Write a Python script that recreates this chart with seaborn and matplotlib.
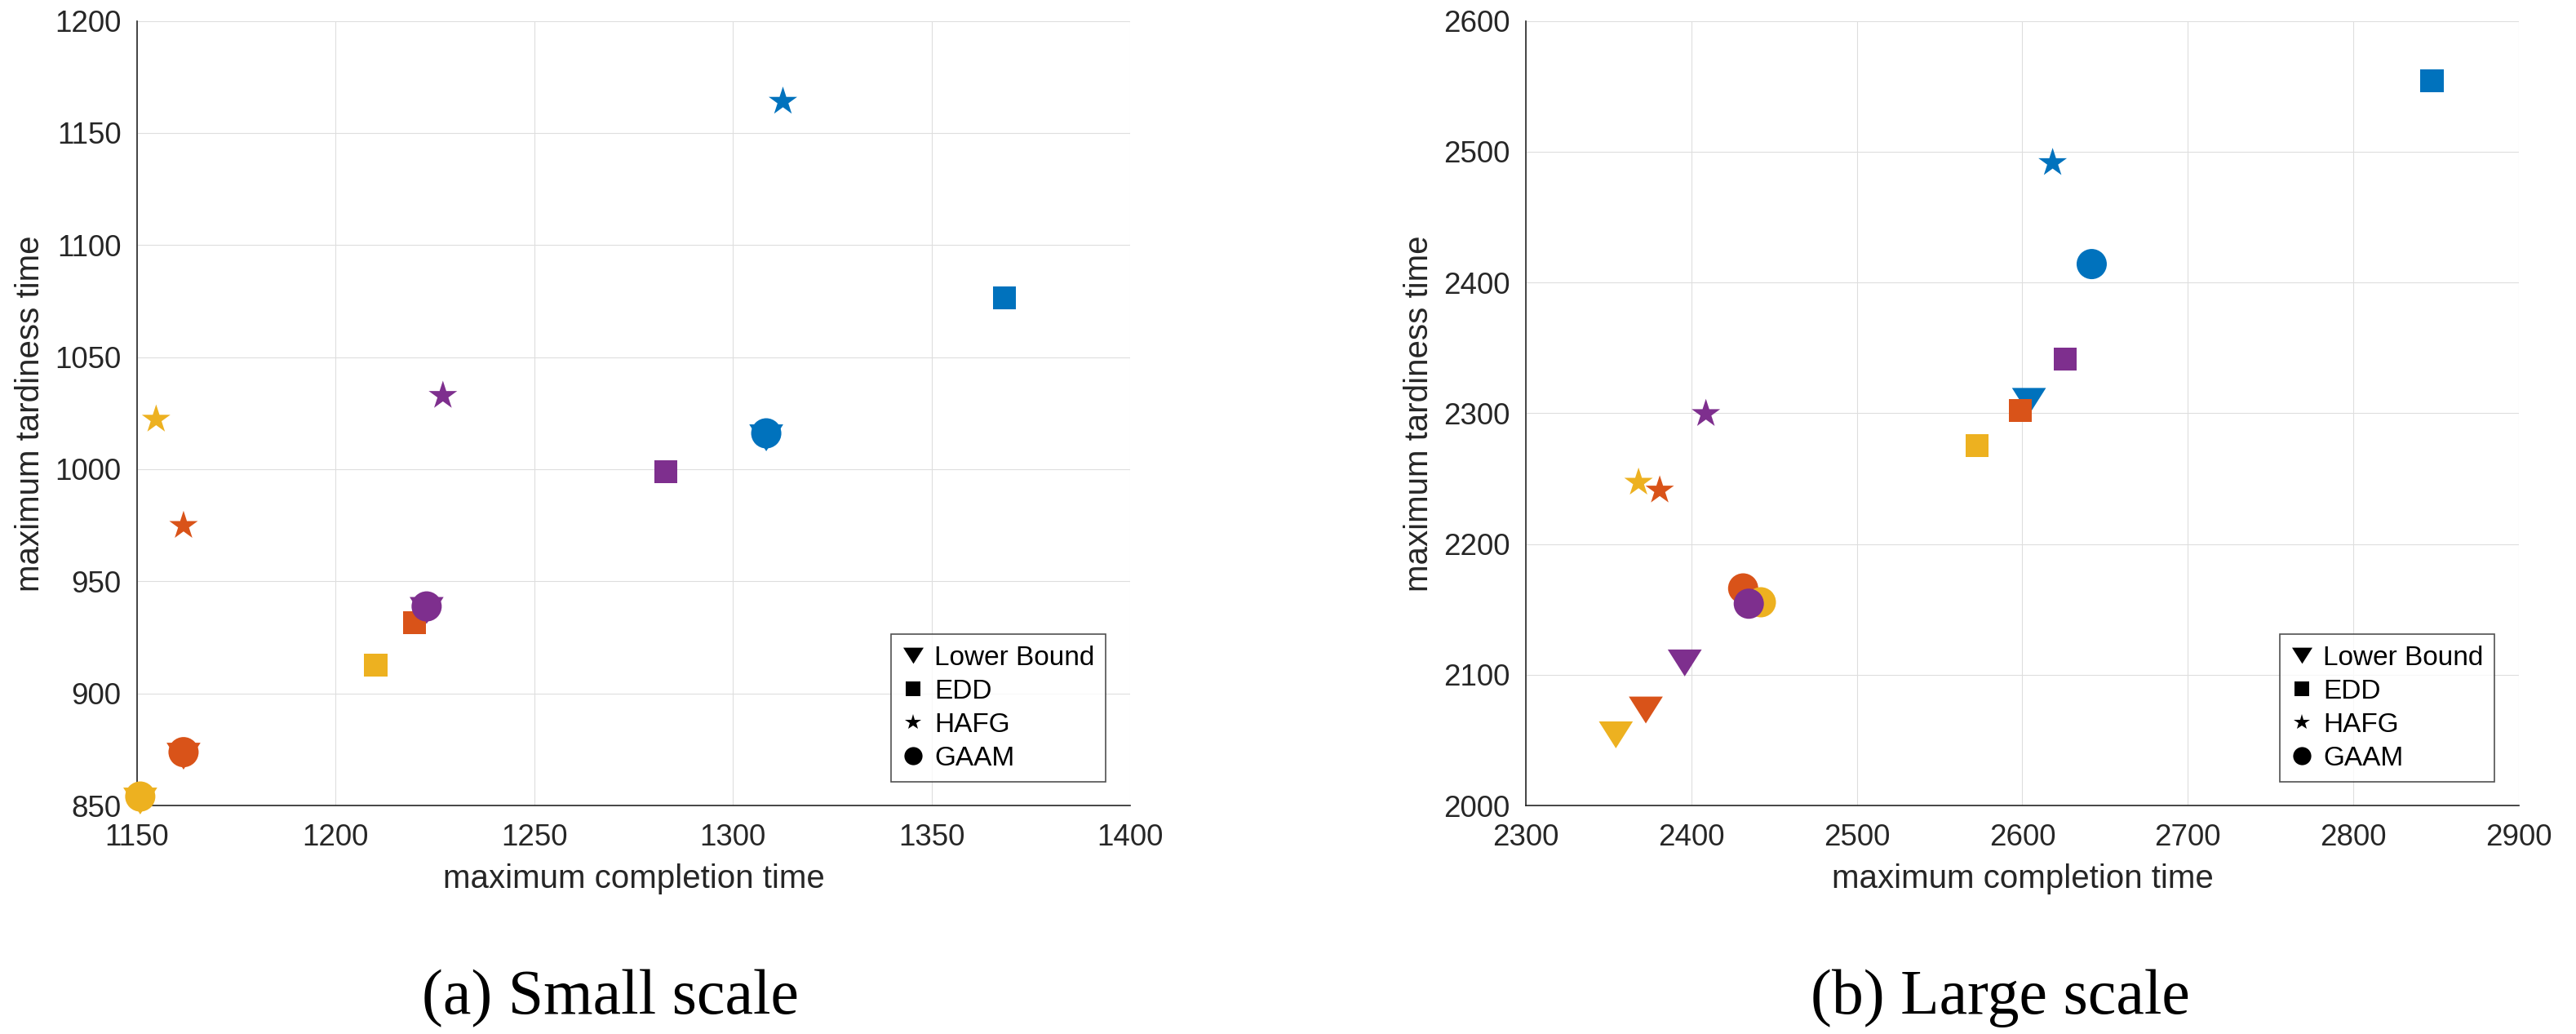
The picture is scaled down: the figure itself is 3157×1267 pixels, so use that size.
import matplotlib
matplotlib.use('Agg')
import matplotlib.pyplot as plt
from matplotlib.lines import Line2D
import pandas as pd
import seaborn as sns

methods = ['Lower Bound', 'EDD', 'HAFG', 'GAAM']
cases = ['c1', 'c2', 'c3', 'c4']
colors = ['#0072BD', '#D95319', '#EDB120', '#7E2F8E']

# (a) small scale, one value per colour group
small_lb_x = [1308.4, 1161.7, 1150.8, 1222.9]
small_lb_y = [1014, 872, 852, 937]
small_edd_x = [1368.4, 1219.8, 1210.1, 1283.1]
small_edd_y = [1076.3, 931.4, 912.6, 999]
small_hafg_x = [1312.6, 1161.7, 1154.8, 1227]
small_hafg_y = [1164, 974.8, 1022.2, 1032.8]
small_gaam_x = [1308.4, 1161.7, 1150.8, 1222.9]
small_gaam_y = [1016, 873.8, 854, 938.8]

# (b) large scale
large_lb_x = [2604, 2372.5, 2354.4, 2396]
large_lb_y = [2309, 2073, 2054, 2109]
large_edd_x = [2847.5, 2598.8, 2572.8, 2625.7]
large_edd_y = [2554, 2302, 2275, 2341.3]
large_hafg_x = [2618.3, 2380.9, 2368.1, 2408.8]
large_hafg_y = [2491.4, 2241, 2247, 2299.5]
large_gaam_x = [2641.9, 2431.3, 2442, 2434.7]
large_gaam_y = [2414, 2166, 2155.4, 2154.3]

tri = [(0, -0.79), (-1, 0.79), (1, 0.79)]
markers = {'Lower Bound': tri, 'EDD': 's', 'HAFG': '*', 'GAAM': 'o'}
sizes = {'Lower Bound': 900, 'EDD': 410, 'HAFG': 700, 'GAAM': 710}
leg_sizes = {'Lower Bound': 18, 'EDD': 13, 'HAFG': 15, 'GAAM': 16}


def make_df(xs, ys):
    rows = []
    for m, x, y in zip(methods, xs, ys):
        for c, xv, yv in zip(cases, x, y):
            rows.append({'method': m, 'case': c, 'x': xv, 'y': yv})
    return pd.DataFrame(rows)


df_small = make_df([small_lb_x, small_edd_x, small_hafg_x, small_gaam_x],
                   [small_lb_y, small_edd_y, small_hafg_y, small_gaam_y])
df_large = make_df([large_lb_x, large_edd_x, large_hafg_x, large_gaam_x],
                   [large_lb_y, large_edd_y, large_hafg_y, large_gaam_y])

sns.set_style('white')
plt.rcParams['font.family'] = ['Liberation Sans', 'DejaVu Sans']

ink = '#262626'
fig = plt.figure(figsize=(31.57, 12.67), dpi=100)
ax1 = fig.add_axes([0.05321, 0.22099, 0.38549, 0.75888])
ax2 = fig.add_axes([0.59233, 0.22099, 0.38549, 0.75888])


def draw(ax, df, xlim, ylim, xstep, ystep):
    pal = dict(zip(cases, colors))
    for m in methods:
        sns.scatterplot(data=df[df.method == m], x='x', y='y', hue='case',
                        palette=pal, marker=markers[m], s=sizes[m],
                        linewidth=0, legend=False, ax=ax, clip_on=False,
                        zorder=3)
    ax.set_xlim(*xlim)
    ax.set_ylim(*ylim)
    ax.set_xticks(range(xlim[0], xlim[1] + 1, xstep))
    ax.set_yticks(range(ylim[0], ylim[1] + 1, ystep))
    ax.grid(True, color='#dedede', linewidth=0.8)
    ax.set_axisbelow(True)
    for s in ['top', 'right']:
        ax.spines[s].set_visible(False)
    for s in ['left', 'bottom']:
        ax.spines[s].set_color(ink)
        ax.spines[s].set_linewidth(1.2)
    ax.tick_params(axis='both', direction='in', length=8, width=0.9,
                   colors=ink, labelsize=26.5)
    ax.tick_params(axis='x', pad=16)
    ax.tick_params(axis='y', pad=14)
    ax.set_xlabel('maximum completion time', fontsize=29, color=ink, labelpad=10)
    ax.set_ylabel('maximum tardiness time', fontsize=29, color=ink, labelpad=8)
    handles = [Line2D([], [], linestyle='none', marker=markers[m],
                      markersize=leg_sizes[m], color='black',
                      markeredgewidth=0) for m in methods]
    leg = ax.legend(handles, methods, loc='lower right',
                    bbox_to_anchor=(0.9753, 0.0302), borderaxespad=0,
                    fontsize=24, frameon=True, fancybox=False,
                    borderpad=0.4, handlelength=0.84, handletextpad=0.36,
                    labelspacing=0.3)
    for t in leg.get_texts():
        t.set_color('black')
    leg.get_frame().set_edgecolor(ink)
    leg.get_frame().set_linewidth(1.2)


draw(ax1, df_small, (1150, 1400), (850, 1200), 50, 50)
draw(ax2, df_large, (2300, 2900), (2000, 2600), 100, 100)

fig.text(748 / 3157, 1 - 1242 / 1267, '(a) Small scale', ha='center',
         va='baseline', fontsize=56, color='black',
         family=['Liberation Serif', 'DejaVu Serif'])
fig.text(2451 / 3157, 1 - 1242 / 1267, '(b) Large scale', ha='center',
         va='baseline', fontsize=56, color='black',
         family=['Liberation Serif', 'DejaVu Serif'])

fig.savefig('out.png', dpi=100)
